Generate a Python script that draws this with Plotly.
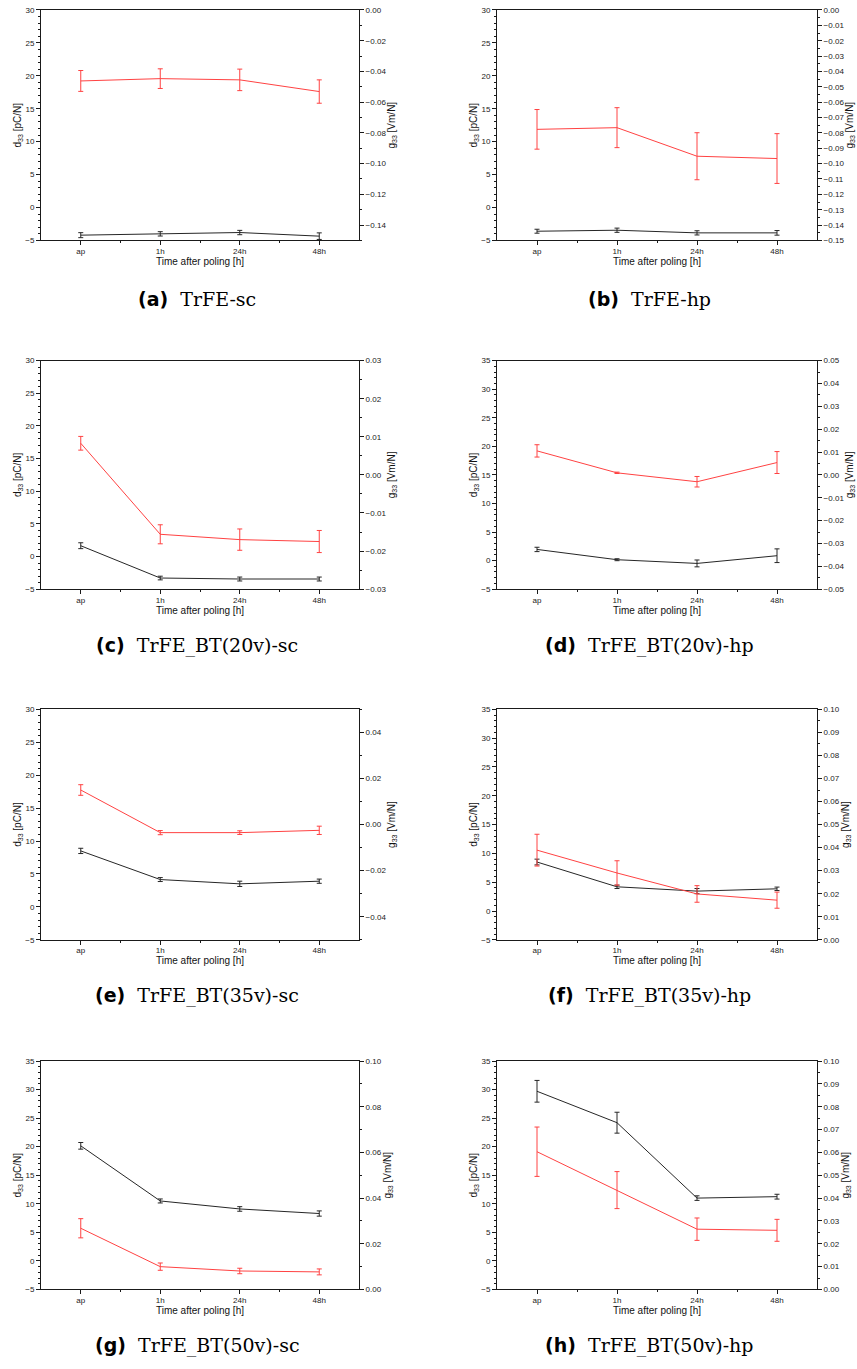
import plotly.graph_objects as go

W, H = 857, 1369

categories = ["ap", "1h", "24h", "48h"]
panel_letters = ["a", "b", "c", "d", "e", "f", "g", "h"]
panel_names = ["TrFE-sc", "TrFE-hp", "TrFE_BT(20v)-sc", "TrFE_BT(20v)-hp",
               "TrFE_BT(35v)-sc", "TrFE_BT(35v)-hp", "TrFE_BT(50v)-sc", "TrFE_BT(50v)-hp"]

# d33 [pC/N] (left axis) with standard deviation
d33_a = [-4.2, -4.0, -3.8, -4.35]
d33_a_err = [0.38, 0.33, 0.33, 0.5]
d33_b = [-3.6, -3.45, -3.85, -3.85]
d33_b_err = [0.3, 0.32, 0.32, 0.35]
d33_c = [1.65, -3.3, -3.45, -3.45]
d33_c_err = [0.45, 0.28, 0.3, 0.3]
d33_d = [1.95, 0.15, -0.5, 0.85]
d33_d_err = [0.38, 0.17, 0.6, 1.2]
d33_e = [8.5, 4.15, 3.5, 3.9]
d33_e_err = [0.4, 0.3, 0.4, 0.32]
d33_f = [8.5, 4.2, 3.45, 3.85]
d33_f_err = [0.5, 0.3, 0.45, 0.3]
d33_g = [20.15, 10.5, 9.1, 8.3]
d33_g_err = [0.58, 0.35, 0.4, 0.46]
d33_h = [29.7, 24.2, 11.0, 11.25]
d33_h_err = [1.9, 1.83, 0.4, 0.42]

# g33 [Vm/N] (right axis) with standard deviation
g33_a = [-0.0462, -0.0447, -0.0455, -0.0531]
g33_a_err = [0.0068, 0.0064, 0.0070, 0.0076]
g33_b = [-0.0777, -0.0766, -0.0952, -0.0967]
g33_b_err = [0.0129, 0.0130, 0.0153, 0.0162]
g33_c = [0.0083, -0.0156, -0.0170, -0.0175]
g33_c_err = [0.0018, 0.0025, 0.0028, 0.0029]
g33_d = [0.0105, 0.0009, -0.0030, 0.0054]
g33_d_err = [0.0027, 0.0003, 0.0023, 0.0048]
g33_e = [0.0150, -0.0035, -0.0035, -0.0025]
g33_e_err = [0.0023, 0.0009, 0.0008, 0.0018]
g33_f = [0.0389, 0.0290, 0.0199, 0.0172]
g33_f_err = [0.0069, 0.0053, 0.0036, 0.0035]
g33_g = [0.0268, 0.0100, 0.0081, 0.0077]
g33_g_err = [0.0042, 0.0016, 0.0012, 0.0013]
g33_h = [0.0603, 0.0435, 0.0264, 0.0259]
g33_h_err = [0.0108, 0.0081, 0.0049, 0.0048]

d33_series = [d33_a, d33_b, d33_c, d33_d, d33_e, d33_f, d33_g, d33_h]
d33_errors = [d33_a_err, d33_b_err, d33_c_err, d33_d_err, d33_e_err, d33_f_err, d33_g_err, d33_h_err]
g33_series = [g33_a, g33_b, g33_c, g33_d, g33_e, g33_f, g33_g, g33_h]
g33_errors = [g33_a_err, g33_b_err, g33_c_err, g33_d_err, g33_e_err, g33_f_err, g33_g_err, g33_h_err]

# axis ranges per panel: (d33 max, g33 min, g33 max, g33 tick step)
d33_max = [30, 30, 30, 35, 30, 35, 35, 35]
g33_min = [-0.15, -0.15, -0.03, -0.05, -0.05, 0.0, 0.0, 0.0]
g33_max = [0.0, 0.0, 0.03, 0.05, 0.05, 0.10, 0.10, 0.10]
g33_step = [0.02, 0.01, 0.01, 0.01, 0.02, 0.01, 0.02, 0.01]

# plot-area placement in pixels
col_px = [(41, 359), (497, 817)]
row_px = [(6, 238), (359, 589), (710, 942), (1064, 1294)]
caption_y = [297, 646, 998, 1350]
caption_x = [197, 649]

BLACK = "#262626"
RED = "#ff4242"
AX = "#1a1a1a"
FONT = "Liberation Sans, Arial, sans-serif"

fig = go.Figure()
layout = {}
xs = [1, 2, 3, 4]

for i in range(8):
    r, c = divmod(i, 2)
    x0, x1 = col_px[c]
    top, bot = row_px[r]
    xid = i + 1
    yl = 2 * i + 1
    yr = 2 * i + 2
    xname = "xaxis" if xid == 1 else f"xaxis{xid}"
    ylname = "yaxis" if yl == 1 else f"yaxis{yl}"
    yrname = f"yaxis{yr}"
    xref = "x" if xid == 1 else f"x{xid}"
    ylref = "y" if yl == 1 else f"y{yl}"
    yrref = f"y{yr}"

    fig.add_trace(go.Scatter(
        x=xs, y=d33_series[i], mode="lines", xaxis=xref, yaxis=ylref,
        line=dict(color=BLACK, width=1), showlegend=False,
        error_y=dict(type="data", array=d33_errors[i], color=BLACK, thickness=1, width=2.5)))
    fig.add_trace(go.Scatter(
        x=xs, y=g33_series[i], mode="lines", xaxis=xref, yaxis=yrref,
        line=dict(color=RED, width=1), showlegend=False,
        error_y=dict(type="data", array=g33_errors[i], color=RED, thickness=1, width=2.5)))

    ydom = [1 - bot / H, 1 - top / H]
    layout[xname] = dict(
        domain=[x0 / W, x1 / W], anchor=ylref, range=[0.5, 4.5],
        tickmode="array", tickvals=xs, ticktext=categories,
        ticks="outside", ticklen=4, tickwidth=1, tickcolor=AX,
        ticklabelstandoff=-1,
        minor=dict(tickmode="array", tickvals=[1.5, 2.5, 3.5], ticks="outside",
                   ticklen=2, tickcolor=AX),
        showline=True, linecolor=AX, linewidth=1, mirror=True,
        showgrid=False, zeroline=False,
        tickfont=dict(family=FONT, size=8, color="#222"),
        title=dict(text="Time after poling [h]", standoff=0,
                   font=dict(family=FONT, size=10, color="#111")),
    )
    layout[ylname] = dict(
        domain=ydom, anchor=xref, range=[-5, d33_max[i]],
        tickmode="linear", tick0=0, dtick=5,
        ticks="outside", ticklen=4, tickwidth=1, tickcolor=AX,
        minor=dict(dtick=1, ticks="outside", ticklen=2, tickcolor=AX),
        showline=True, linecolor=AX, linewidth=1,
        showgrid=False, zeroline=False,
        tickfont=dict(family=FONT, size=8, color="#222"),
        title=dict(text="d<sub>33</sub> [pC/N]", standoff=1,
                   font=dict(family=FONT, size=10, color="#111")),
    )
    layout[yrname] = dict(
        domain=ydom, anchor=xref, overlaying=ylref, side="right",
        range=[g33_min[i], g33_max[i]],
        tickmode="linear", tick0=0, dtick=g33_step[i], tickformat=".2f",
        ticks="outside", ticklen=4, tickwidth=1, tickcolor=AX,
        minor=dict(dtick=g33_step[i] / 2, ticks="outside", ticklen=2, tickcolor=AX),
        showline=True, linecolor=AX, linewidth=1,
        showgrid=False, zeroline=False,
        tickfont=dict(family=FONT, size=8, color="#222"),
        title=dict(text="g<sub>33</sub> [Vm/N]", standoff=2,
                   font=dict(family=FONT, size=10, color="#111")),
    )

annotations = []
for i in range(8):
    r, c = divmod(i, 2)
    annotations.append(dict(
        text=(f"<span style='font-family:DejaVu Sans;font-weight:bold'>({panel_letters[i]})</span>"
              f"&nbsp;&nbsp;{panel_names[i]}"),
        x=caption_x[c] / W, y=1 - caption_y[r] / H, xref="paper", yref="paper",
        xanchor="center", yanchor="middle", showarrow=False,
        font=dict(family="DejaVu Serif, serif", size=19, color="#000"),
    ))

fig.update_layout(
    width=W, height=H, autosize=False,
    margin=dict(l=0, r=0, t=0, b=0),
    paper_bgcolor="white", plot_bgcolor="white",
    annotations=annotations,
    **layout,
)

fig.write_html("out.html", config={"displayModeBar": False})
